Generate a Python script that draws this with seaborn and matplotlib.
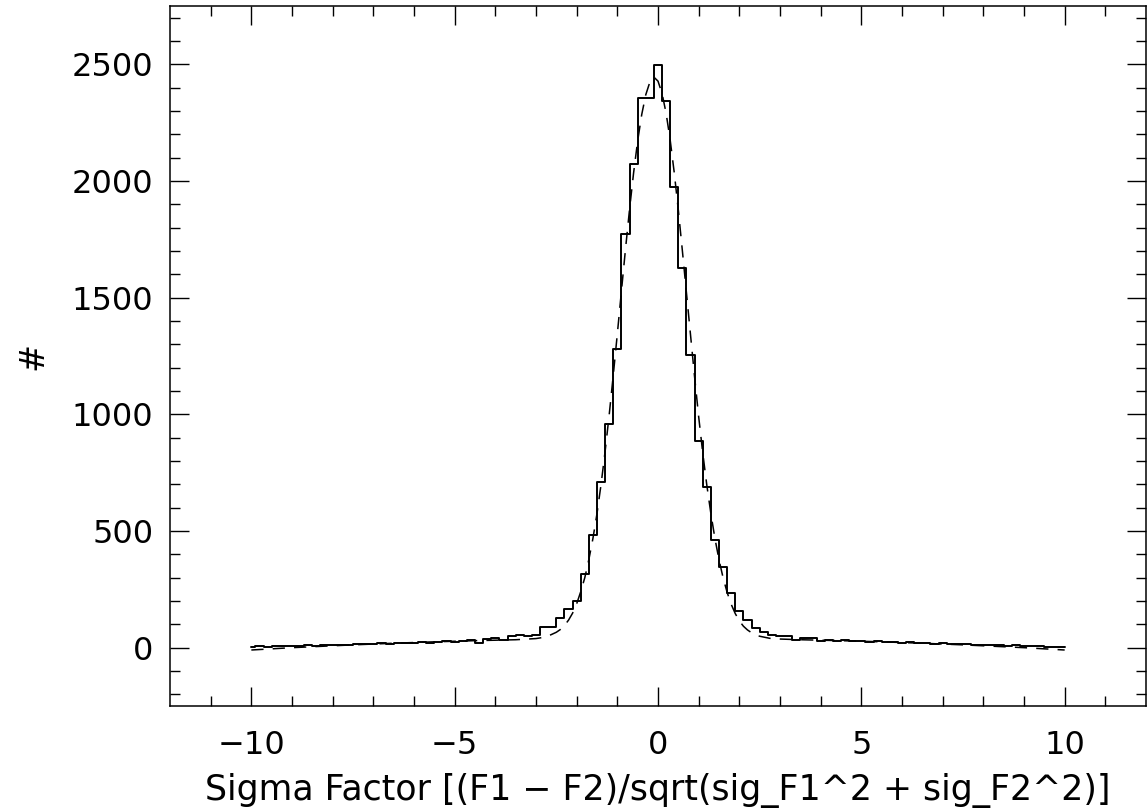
import numpy as np
import pandas as pd
import matplotlib
matplotlib.use('Agg')
import matplotlib.pyplot as plt
import seaborn as sns

# Histogram of sigma factors, bin width 0.2 from -10 to 10 (bin centres)
bin_start = -10.0
bin_width = 0.2
counts = [
    5, 6, 5, 7, 8, 7, 9, 10, 9, 11,              # -10.0 .. -8.2
    12, 11, 13, 15, 14, 16, 18, 17, 20, 19,      # -8.0 .. -6.2
    22, 24, 22, 26, 27, 25, 29, 31, 22, 37,      # -6.0 .. -4.2
    41, 31, 51, 56, 51, 55, 88, 88, 127, 164,    # -4.0 .. -2.2
    199, 316, 485, 711, 958, 1280, 1774, 2073, 2355, 2355,  # -2.0 .. -0.2
    2497,                                        # 0.0
    2345, 1973, 1627, 1256, 884, 689, 463, 347, 235, 157,   # 0.2 .. 2.0
    118, 84, 66, 56, 49, 49, 35, 41, 41, 30,     # 2.2 .. 4.0
    32, 30, 31, 27, 28, 25, 27, 23, 24, 21,      # 4.2 .. 6.0
    23, 19, 20, 17, 18, 15, 14, 15, 12, 13,      # 6.2 .. 8.0
    11, 10, 9, 12, 8, 7, 6, 5, 4, 3,             # 8.2 .. 10.0
]

# Fitted curve (dashed)
fit_x = [-10, -9.5, -9, -8.5, -8, -7.5, -7, -6.5, -6, -5.5, -5, -4.5, -4, -3.5, -3, -2.75,
         -2.5, -2.4, -2.3, -2.2, -2.1, -2.0, -1.9, -1.8, -1.7, -1.6, -1.5, -1.4, -1.3,
         -1.2, -1.1, -1.0, -0.9, -0.8, -0.7, -0.6, -0.5, -0.4, -0.3, -0.2, -0.1,
         0.0, 0.1, 0.2, 0.3, 0.4, 0.5, 0.6, 0.7, 0.8, 0.9, 1.0, 1.1, 1.2, 1.3, 1.4,
         1.5, 1.6, 1.7, 1.8, 1.9, 2.0, 2.1, 2.2, 2.3, 2.4, 2.5,
         2.75, 3, 3.5, 4, 4.5, 5, 5.5, 6, 6.5, 7, 7.5, 8, 8.5, 9, 9.5, 10]
fit_y = [-10, -5, 0, 4, 8, 12, 15.5, 19, 22, 25, 27.5, 30, 32, 34, 39, 46,
         66, 78, 95, 118, 148, 188, 240, 300, 378, 468, 575, 700, 842,
         998, 1168, 1345, 1527, 1707, 1878, 2035, 2172, 2285, 2370, 2424, 2445,
         2428, 2375, 2290, 2175, 2035, 1875, 1700, 1520, 1340, 1160, 990, 835, 697, 575, 468,
         377, 300, 237, 186, 146, 115, 92, 76, 64, 55, 49,
         40, 37, 34, 32, 30, 27.5, 25, 22, 19, 15.5, 12, 8, 4, 0, -5, -10]

x_label = 'Sigma Factor [(F1 \u2212 F2)/sqrt(sig_F1^2 + sig_F2^2)]'
y_label = '#'

centers = np.round(bin_start + bin_width * np.arange(len(counts)), 1)
hist_df = pd.DataFrame({'sigma': centers, 'count': counts})
fit_df = pd.DataFrame({'sigma': fit_x, 'count': fit_y})

sns.set_style('ticks')
plt.rcParams['font.family'] = ['DejaVu Sans']
plt.rcParams['text.color'] = 'black'
plt.rcParams['axes.labelcolor'] = 'black'

fig = plt.figure(figsize=(11.48, 8.10), dpi=100)
ax = fig.add_axes([170 / 1148, 104 / 810, 976 / 1148, 700 / 810])

sns.lineplot(data=hist_df, x='sigma', y='count', ax=ax, color='black',
             drawstyle='steps-mid', linewidth=1.4, estimator=None)
sns.lineplot(data=fit_df, x='sigma', y='count', ax=ax, color='black',
             linestyle=(0, (8, 6)), linewidth=1.1, estimator=None)

ax.set_xlim(-12, 12)
ax.set_ylim(-250, 2750)
ax.set_xticks([-10, -5, 0, 5, 10])
ax.set_xticks(np.arange(-11, 12, 1), minor=True)
ax.set_yticks([0, 500, 1000, 1500, 2000, 2500])
ax.set_yticks(np.arange(-200, 2750, 100), minor=True)
ax.tick_params(which='both', direction='in', top=True, right=True, width=1.0,
               color='black', labelsize=23, labelcolor='black')
ax.tick_params(which='major', length=14)
ax.tick_params(which='minor', length=7)
ax.tick_params(axis='x', which='major', pad=17)
ax.tick_params(axis='y', which='major', pad=12)
for s in ax.spines.values():
    s.set_linewidth(1.1)
    s.set_color('black')

ax.set_xlabel(x_label, fontsize=25, labelpad=9)
ax.set_ylabel(y_label, fontsize=24, labelpad=16)

fig.savefig('out.png', dpi=100)
